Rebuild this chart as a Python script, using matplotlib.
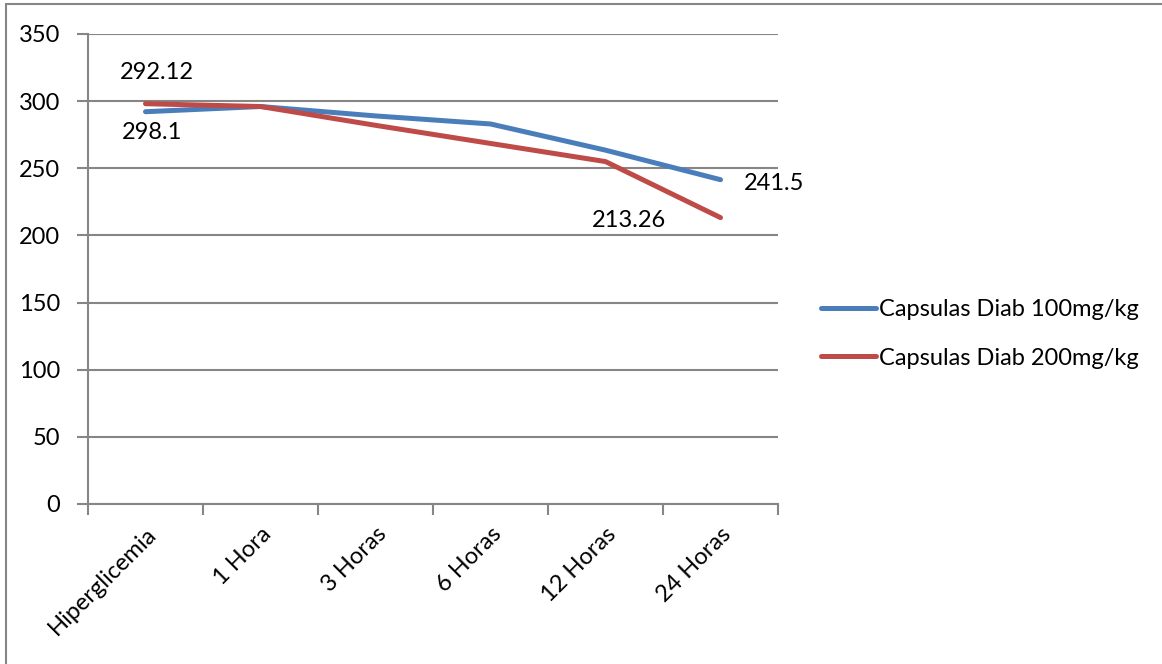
"""
Glucemia tras administracion de capsulas Diab (100 y 200 mg/kg)
"""
import matplotlib.pyplot as plt
from matplotlib.patches import Rectangle

categories = ['Hiperglicemia', '1 Hora', '3 Horas', '6 Horas', '12 Horas', '24 Horas']
dose_100 = [292.12, 296, 289, 283, 263.5, 241.5]
dose_200 = [298.1, 296, 282, 268.5, 255, 213.26]
series_names = ['Capsulas Diab 100mg/kg', 'Capsulas Diab 200mg/kg']
y_ticks = [0, 50, 100, 150, 200, 250, 300, 350]

plt.rcParams['font.family'] = ['Lato', 'DejaVu Sans']
grid_color = '#868686'
fs = 17

fig = plt.figure(figsize=(11.62, 6.64), dpi=100)
ax = fig.add_axes([88 / 1162, 1 - 504 / 664, 690 / 1162, 470 / 664])

# frame around the chart area
fig.patches.append(Rectangle((6 / 1162, -0.1), 1.2, 1 - 4 / 664 + 0.1,
                             transform=fig.transFigure, fill=False,
                             edgecolor=grid_color, linewidth=1.5))

x = list(range(len(categories)))
ax.plot(x, dose_100, color='#4A7EBB', linewidth=3.6, label=series_names[0],
        solid_capstyle='round', solid_joinstyle='round')
ax.plot(x, dose_200, color='#BE4B48', linewidth=3.6, label=series_names[1],
        solid_capstyle='round', solid_joinstyle='round')

# value labels on the first and last points
ax.annotate(f'{dose_100[0]:g}', (x[0], dose_100[0]), xytext=(8, 21),
            textcoords='offset points', ha='center', va='bottom', fontsize=fs)
ax.annotate(f'{dose_200[0]:g}', (x[0], dose_200[0]), xytext=(5, -13),
            textcoords='offset points', ha='center', va='top', fontsize=fs)
ax.annotate(f'{dose_100[-1]:g}', (x[-1], dose_100[-1]), xytext=(17, -3),
            textcoords='offset points', ha='left', va='center', fontsize=fs)
ax.annotate(f'{dose_200[-1]:g}', (x[-1], dose_200[-1]), xytext=(-66, -2),
            textcoords='offset points', ha='center', va='center', fontsize=fs)

ax.set_xlim(-0.5, len(categories) - 0.5)
ax.set_ylim(0, 350)
ax.set_yticks(y_ticks)
ax.set_xticks(x)
ax.set_xticklabels(categories, rotation=45, ha='right', rotation_mode='anchor',
                   fontsize=fs)
ax.set_xticks([i - 0.5 for i in range(len(categories) + 1)], minor=True)
ax.tick_params(axis='x', which='major', length=0, pad=14)
ax.tick_params(axis='x', which='minor', length=8, color=grid_color, width=1.5)
ax.tick_params(axis='y', length=8, color=grid_color, width=1.5, labelsize=fs, pad=12)

ax.grid(axis='y', color=grid_color, linewidth=1.5)
ax.set_axisbelow(True)
for side in ['top', 'right']:
    ax.spines[side].set_visible(False)
for side in ['left', 'bottom']:
    ax.spines[side].set_color(grid_color)
    ax.spines[side].set_linewidth(1.5)

fig.legend(loc='center left', bbox_to_anchor=(800 / 1162, 1 - 334 / 664),
           frameon=False, fontsize=fs, handlelength=2.3, handletextpad=0.15,
           labelspacing=1.15)

fig.savefig('out.png', dpi=100)
plt.close(fig)
